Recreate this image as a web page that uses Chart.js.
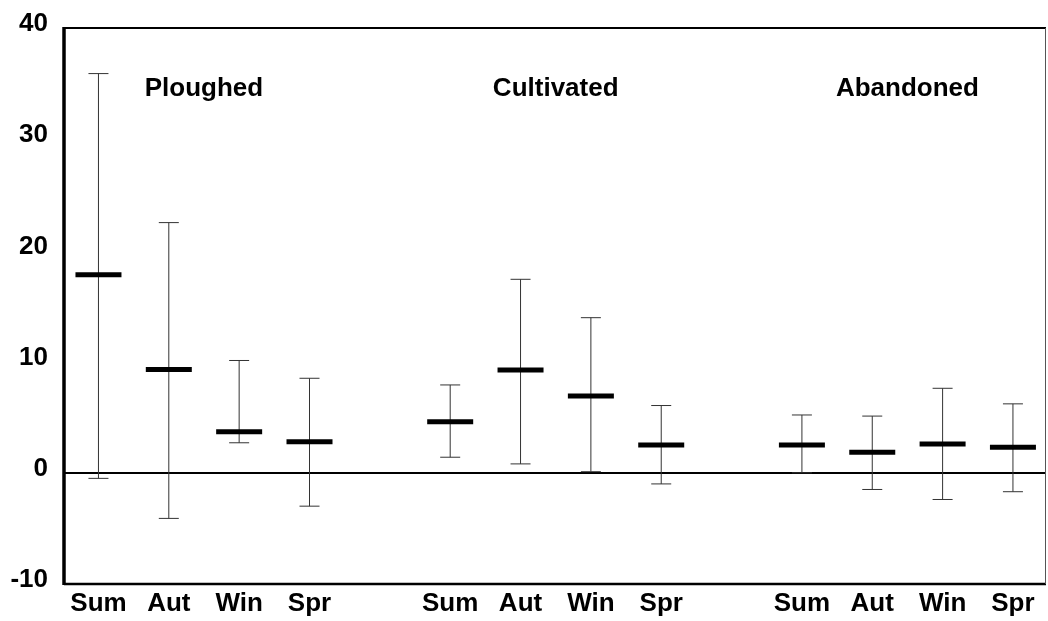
<!DOCTYPE html>
<html lang="en">
<head>
    <meta charset="UTF-8">
    <title>Seasonal means with ranges - Ploughed / Cultivated / Abandoned</title>
    <script src="https://cdn.jsdelivr.net/npm/chart.js@4.4.0"></script>
    <style>
        html, body { margin: 0; padding: 0; background: #fff; overflow: hidden; }
        canvas { display: block; }
    </style>
</head>
<body>
    <canvas id="myChart" width="1048" height="621"></canvas>
    <script>
        // Groups and seasons
        const groups = ['Ploughed', 'Cultivated', 'Abandoned'];
        const seasons = ['Sum', 'Aut', 'Win', 'Spr'];

        // Mean values (thick bars)
        const ploughedMean   = [17.8, 9.3, 3.7, 2.8];
        const cultivatedMean = [4.6, 9.25, 6.9, 2.5];
        const abandonedMean  = [2.5, 1.85, 2.6, 2.3];

        // Upper ends of the ranges
        const ploughedHigh   = [35.9, 22.5, 10.1, 8.5];
        const cultivatedHigh = [7.9, 17.4, 13.95, 6.05];
        const abandonedHigh  = [5.2, 5.1, 7.6, 6.2];

        // Lower ends of the ranges
        const ploughedLow    = [-0.5, -4.1, 2.7, -3.0];
        const cultivatedLow  = [1.4, 0.8, 0.1, -1.0];
        const abandonedLow   = [0.0, -1.5, -2.4, -1.7];

        // Y axis ticks
        const yTicks = [-10, 0, 10, 20, 30, 40];

        const means = [ploughedMean, cultivatedMean, abandonedMean];
        const highs = [ploughedHigh, cultivatedHigh, abandonedHigh];
        const lows  = [ploughedLow, cultivatedLow, abandonedLow];

        // one empty slot between groups
        const slotOf = (g, s) => g * (seasons.length + 1) + s;
        const xLabels = {};
        const meanPts = [];
        const rangePts = [];
        groups.forEach((g, gi) => {
            seasons.forEach((s, si) => {
                const x = slotOf(gi, si);
                xLabels[x] = s;
                meanPts.push({ x: x, y: means[gi][si] });
                rangePts.push({ x: x, y: lows[gi][si] });
                rangePts.push({ x: x, y: highs[gi][si] });
                rangePts.push({ x: x, y: null });
            });
        });
        const tickSlots = Object.keys(xLabels).map(Number);

        const FONT = "'Liberation Sans', Arial, sans-serif";

        // frame + group titles
        const framePlugin = {
            id: 'frame',
            afterDraw(chart) {
                const { ctx, chartArea: a, scales } = chart;
                ctx.save();
                ctx.strokeStyle = '#000';
                ctx.lineWidth = 2;
                ctx.beginPath(); ctx.moveTo(a.left, a.top); ctx.lineTo(a.right, a.top); ctx.stroke();
                ctx.lineWidth = 2.5;
                ctx.beginPath(); ctx.moveTo(a.left, a.bottom); ctx.lineTo(a.right, a.bottom); ctx.stroke();
                ctx.lineWidth = 3.5;
                ctx.beginPath(); ctx.moveTo(a.left, a.top - 1); ctx.lineTo(a.left, a.bottom + 1); ctx.stroke();
                ctx.strokeStyle = '#555';
                ctx.lineWidth = 1;
                ctx.beginPath(); ctx.moveTo(a.right - 0.5, a.top); ctx.lineTo(a.right - 0.5, a.bottom); ctx.stroke();

                ctx.fillStyle = '#000';
                ctx.font = 'bold 26px ' + FONT;
                ctx.textAlign = 'center';
                ctx.textBaseline = 'middle';
                groups.forEach((g, gi) => {
                    const mid = (slotOf(gi, 0) + slotOf(gi, seasons.length - 1)) / 2;
                    ctx.fillText(g, scales.x.getPixelForValue(mid), scales.y.getPixelForValue(34.5));
                });
                ctx.restore();
            }
        };

        const ctx = document.getElementById('myChart').getContext('2d');
        const myChart = new Chart(ctx, {
            type: 'scatter',
            data: {
                datasets: [{
                    label: 'Mean',
                    data: meanPts,
                    pointStyle: 'line',
                    pointRadius: 23,
                    pointBorderWidth: 5,
                    pointBorderColor: '#000',
                    borderColor: '#000'
                }, {
                    label: 'Range',
                    data: rangePts,
                    showLine: true,
                    spanGaps: false,
                    borderColor: '#333',
                    borderWidth: 1,
                    pointStyle: 'line',
                    pointRadius: 10,
                    pointBorderWidth: 1,
                    pointBorderColor: '#333'
                }]
            },
            plugins: [framePlugin],
            options: {
                responsive: false,
                animation: false,
                events: [],
                devicePixelRatio: 1,
                layout: {
                    autoPadding: false,
                    padding: { top: 28, right: 2, left: 0, bottom: 0 }
                },
                plugins: {
                    legend: { display: false },
                    tooltip: { enabled: false }
                },
                scales: {
                    x: {
                        type: 'linear',
                        min: -0.49,
                        max: 13.47,
                        afterFit(scale) {
                            scale.height = 37;
                            scale.paddingLeft = 0;
                            scale.paddingRight = 0;
                        },
                        afterBuildTicks(axis) { axis.ticks = tickSlots.map(v => ({ value: v })); },
                        grid: { display: false, drawTicks: false },
                        border: { display: false },
                        ticks: {
                            autoSkip: false,
                            maxRotation: 0,
                            padding: 4,
                            color: '#000',
                            font: { family: FONT, size: 26, weight: 'bold' },
                            callback: v => xLabels[v] || ''
                        }
                    },
                    y: {
                        min: -10,
                        max: 40,
                        afterFit(scale) {
                            scale.width = 64;
                            scale.paddingTop = 0;
                            scale.paddingBottom = 0;
                        },
                        afterBuildTicks(axis) { axis.ticks = yTicks.map(v => ({ value: v })); },
                        grid: {
                            drawTicks: false,
                            color: c => c.tick && c.tick.value === 0 ? '#000' : 'rgba(0,0,0,0)',
                            lineWidth: c => c.tick && c.tick.value === 0 ? 2 : 0
                        },
                        border: { display: false },
                        ticks: {
                            padding: 16,
                            labelOffset: -4,
                            color: '#000',
                            font: { family: FONT, size: 26, weight: 'bold' }
                        }
                    }
                }
            }
        });
    </script>
</body>
</html>
